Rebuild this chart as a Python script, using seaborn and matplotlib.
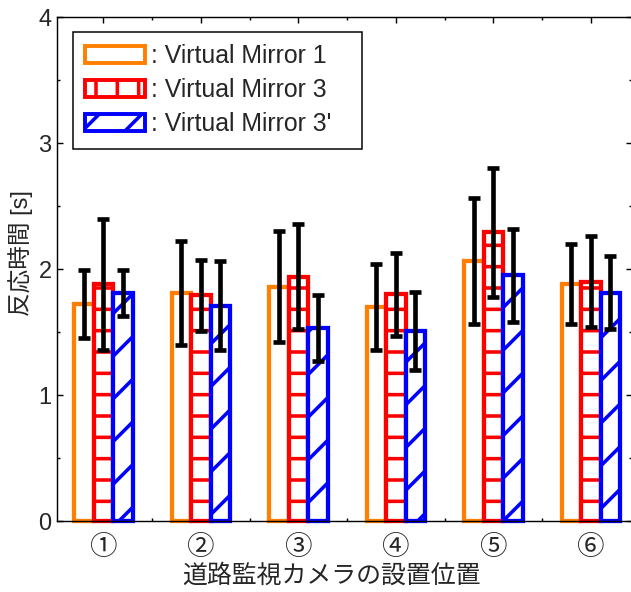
import numpy as np
import pandas as pd
import seaborn as sns
import matplotlib.pyplot as plt
import matplotlib.patches as mpatches

# 設置位置と条件
positions = ['①', '②', '③', '④', '⑤', '⑥']
conditions = ['Virtual Mirror 1', 'Virtual Mirror 3', "Virtual Mirror 3'"]

# 平均反応時間 [s] と標準偏差
vm1 = [1.72, 1.81, 1.86, 1.70, 2.06, 1.88]
vm1_sd = [0.27, 0.41, 0.44, 0.34, 0.50, 0.32]
vm3 = [1.88, 1.79, 1.94, 1.80, 2.29, 1.90]
vm3_sd = [0.52, 0.28, 0.42, 0.33, 0.51, 0.36]
vm3p = [1.81, 1.71, 1.53, 1.51, 1.95, 1.81]
vm3p_sd = [0.18, 0.35, 0.26, 0.31, 0.37, 0.29]

colors = ['#FF8000', '#FF0000', '#0000FF']
hatches = ['', '-', '/']
legend_hatches = ['', '|', '/']

means = [vm1, vm3, vm3p]
sds = [vm1_sd, vm3_sd, vm3p_sd]

df = pd.DataFrame({
    'position': positions * 3,
    'time': vm1 + vm3 + vm3p,
    'condition': np.repeat(conditions, len(positions)),
})

sns.set_style('ticks')
plt.rcParams['font.family'] = ['Liberation Sans', 'Noto Sans CJK JP', 'DejaVu Sans']
plt.rcParams['hatch.linewidth'] = 2.0

DPI = 128
fig = plt.figure(figsize=(631 / DPI, 592 / DPI), dpi=DPI)
ax = fig.add_axes([57 / 631, 71 / 592, 575 / 631, 504 / 592])

sns.barplot(data=df, x='position', y='time', hue='condition', hue_order=conditions,
            order=positions, width=0.6, gap=0, errorbar=None, legend=False,
            palette=colors, ax=ax)

for cont, c, h, m, s in zip(ax.containers, colors, hatches, means, sds):
    xs = []
    for p in cont.patches:
        p.set_facecolor('white')
        p.set_edgecolor(c)
        if hasattr(p, 'set_hatchcolor'):
            p.set_hatchcolor(c)
        p.set_hatch(h)
        p.set_linewidth(2.4)
        p.set_clip_on(False)
        xs.append(p.get_x() + p.get_width() / 2)
    ax.errorbar(xs, m, yerr=s, fmt='none', ecolor='black', elinewidth=2.6,
                capsize=3.2, capthick=2.6, zorder=5, clip_on=False)

ax.set_xlim(-0.475, 5.422)
ax.set_ylim(0, 4)
ax.set_yticks([0, 1, 2, 3, 4])
ax.set_yticks(np.arange(0.5, 4, 1.0), minor=True)
ax.set_xticks(range(len(positions)))
ax.set_xticklabels(positions)
ax.set_xticks(np.arange(0.5, 5, 1.0), minor=True)
ax.tick_params(which='both', direction='in', top=True, right=True, width=0.8,
               color='black')
ax.tick_params(which='major', length=3.5)
ax.tick_params(which='minor', length=1.8)
ax.tick_params(axis='y', labelsize=13.3, pad=3)
ax.tick_params(axis='x', labelsize=15.5, pad=8)
for sp in ax.spines.values():
    sp.set_linewidth(0.8)
    sp.set_color('black')

ax.set_xlabel('道路監視カメラの設置位置', fontsize=14)
ax.set_ylabel('反応時間 [s]', fontsize=13.3)
ax.xaxis.set_label_coords(0.478, -0.085)
ax.yaxis.set_label_coords(-0.042, 0.532)

handles = [mpatches.Patch(facecolor='white', edgecolor=c, hatch=h, linewidth=2.2,
                          label=': ' + lab)
           for c, h, lab in zip(colors, legend_hatches, conditions)]
leg = ax.legend(handles=handles, loc='upper left', mode='expand',
                bbox_to_anchor=(73 / 631, (592 - 146) / 592, 289 / 631, 114 / 592),
                bbox_transform=fig.transFigure, borderaxespad=0,
                fontsize=14, frameon=True, fancybox=False, framealpha=1,
                edgecolor='black', handlelength=2.4, handleheight=0.65,
                handletextpad=0.25, labelspacing=0.4, borderpad=0.5)
leg.get_frame().set_linewidth(0.85)

fig.savefig('out.png', dpi=DPI)
